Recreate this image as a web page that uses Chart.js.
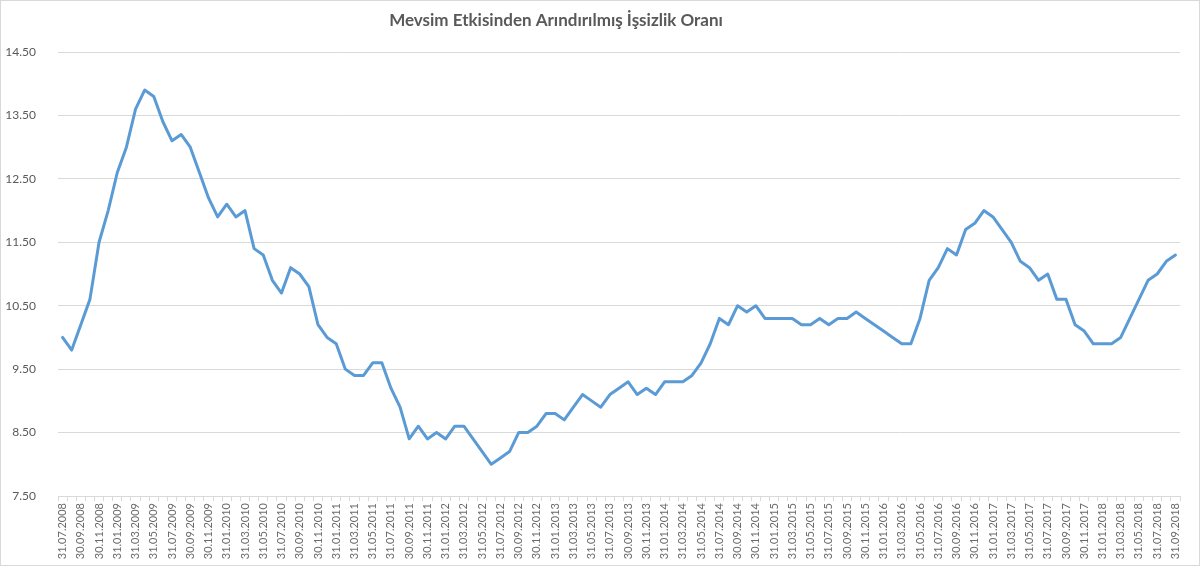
<!DOCTYPE html>
<html>
<head>
<meta charset="utf-8">
<script src="https://cdn.jsdelivr.net/npm/chart.js@4.4.1/dist/chart.umd.min.js"></script>
<style>
  html, body { margin: 0; padding: 0; background: #fff; }
  #wrap { width: 1200px; height: 566px; position: relative; }
</style>
</head>
<body>
<div id="wrap"><canvas id="issizlikChart"></canvas></div>
<script>
// Başlık ve eksen etiketleri
const chartTitle = 'Mevsim Etkisinden Arındırılmış İşsizlik Oranı';

const tickLabels = [
  '31.07.2008', '30.09.2008', '30.11.2008', '31.01.2009', '31.03.2009', '31.05.2009',
  '31.07.2009', '30.09.2009', '30.11.2009', '31.01.2010', '31.03.2010', '31.05.2010',
  '31.07.2010', '30.09.2010', '30.11.2010', '31.01.2011', '31.03.2011', '31.05.2011',
  '31.07.2011', '30.09.2011', '30.11.2011', '31.01.2012', '31.03.2012', '31.05.2012',
  '31.07.2012', '30.09.2012', '30.11.2012', '31.01.2013', '31.03.2013', '31.05.2013',
  '31.07.2013', '30.09.2013', '30.11.2013', '31.01.2014', '31.03.2014', '31.05.2014',
  '31.07.2014', '30.09.2014', '30.11.2014', '31.01.2015', '31.03.2015', '31.05.2015',
  '31.07.2015', '30.09.2015', '30.11.2015', '31.01.2016', '31.03.2016', '31.05.2016',
  '31.07.2016', '30.09.2016', '30.11.2016', '31.01.2017', '31.03.2017', '31.05.2017',
  '31.07.2017', '30.09.2017', '30.11.2017', '31.01.2018', '31.03.2018', '31.05.2018',
  '31.07.2018', '31.09.2018'
];

// Aylık oranlar (%), 07.2008 - 09.2018
const issizlikOrani = [
  10.0, 9.8, 10.2, 10.6, 11.5, 12.0, 12.6, 13.0, 13.6, 13.9,
  13.8, 13.4, 13.1, 13.2, 13.0, 12.6, 12.2, 11.9, 12.1, 11.9,
  12.0, 11.4, 11.3, 10.9, 10.7, 11.1, 11.0, 10.8, 10.2, 10.0,
  9.9, 9.5, 9.4, 9.4, 9.6, 9.6, 9.2, 8.9, 8.4, 8.6,
  8.4, 8.5, 8.4, 8.6, 8.6, 8.4, 8.2, 8.0, 8.1, 8.2,
  8.5, 8.5, 8.6, 8.8, 8.8, 8.7, 8.9, 9.1, 9.0, 8.9,
  9.1, 9.2, 9.3, 9.1, 9.2, 9.1, 9.3, 9.3, 9.3, 9.4,
  9.6, 9.9, 10.3, 10.2, 10.5, 10.4, 10.5, 10.3, 10.3, 10.3,
  10.3, 10.2, 10.2, 10.3, 10.2, 10.3, 10.3, 10.4, 10.3, 10.2,
  10.1, 10.0, 9.9, 9.9, 10.3, 10.9, 11.1, 11.4, 11.3, 11.7,
  11.8, 12.0, 11.9, 11.7, 11.5, 11.2, 11.1, 10.9, 11.0, 10.6,
  10.6, 10.2, 10.1, 9.9, 9.9, 9.9, 10.0, 10.3, 10.6, 10.9,
  11.0, 11.2, 11.3
];

const yMin = 7.5;
const yMax = 14.5;
const yStep = 1;

// Her ay bir kategori; etiket sadece iki ayda bir
const categories = issizlikOrani.map((v, i) => (i % 2 === 0 ? tickLabels[i / 2] : ''));

const textColor = '#595959';
const gridColor = '#d9d9d9';

// Arka plan, çerçeve ve başlık
const frameAndTitle = {
  id: 'frameAndTitle',
  beforeDraw(chart) {
    const ctx = chart.ctx;
    ctx.save();
    ctx.fillStyle = '#ffffff';
    ctx.fillRect(0, 0, chart.width, chart.height);
    ctx.strokeStyle = gridColor;
    ctx.lineWidth = 1;
    ctx.strokeRect(0.5, 0.5, chart.width - 1, chart.height - 1);
    ctx.restore();
  },
  afterDraw(chart) {
    const ctx = chart.ctx;
    ctx.save();
    ctx.font = 'bold 17px Lato';
    ctx.fillStyle = textColor;
    ctx.textAlign = 'center';
    ctx.textBaseline = 'middle';
    ctx.fillText(chartTitle, 556, 21);
    ctx.restore();
  }
};

const ctx = document.getElementById('issizlikChart').getContext('2d');
new Chart(ctx, {
  type: 'line',
  data: {
    labels: categories,
    datasets: [{
      label: chartTitle,
      data: issizlikOrani,
      borderColor: '#5b9bd5',
      backgroundColor: '#5b9bd5',
      borderWidth: 3,
      pointRadius: 0,
      tension: 0,
      borderJoinStyle: 'round',
      borderCapStyle: 'round'
    }]
  },
  options: {
    responsive: true,
    maintainAspectRatio: false,
    animation: false,
    layout: { padding: { top: 52, right: 20, bottom: 0, left: 0 } },
    plugins: {
      legend: { display: false },
      title: { display: false },
      tooltip: { enabled: false }
    },
    scales: {
      x: {
        offset: true,
        grid: {
          offset: true,
          drawOnChartArea: false,
          drawTicks: true,
          tickLength: 5,
          color: gridColor
        },
        border: { display: true, color: gridColor },
        ticks: {
          autoSkip: false,
          minRotation: 90,
          maxRotation: 90,
          padding: 2,
          color: '#6b6b6b',
          font: { family: 'Lato', size: 11 }
        },
        afterFit(scale) { scale.height = 70; }
      },
      y: {
        min: yMin,
        max: yMax,
        grid: { color: gridColor, drawTicks: false },
        border: { display: false },
        ticks: {
          stepSize: yStep,
          padding: 22,
          color: textColor,
          font: { family: 'Lato', size: 12 },
          callback: (v) => v.toFixed(2)
        },
        afterFit(scale) { scale.width = 58; }
      }
    }
  },
  plugins: [frameAndTitle]
});
</script>
</body>
</html>
